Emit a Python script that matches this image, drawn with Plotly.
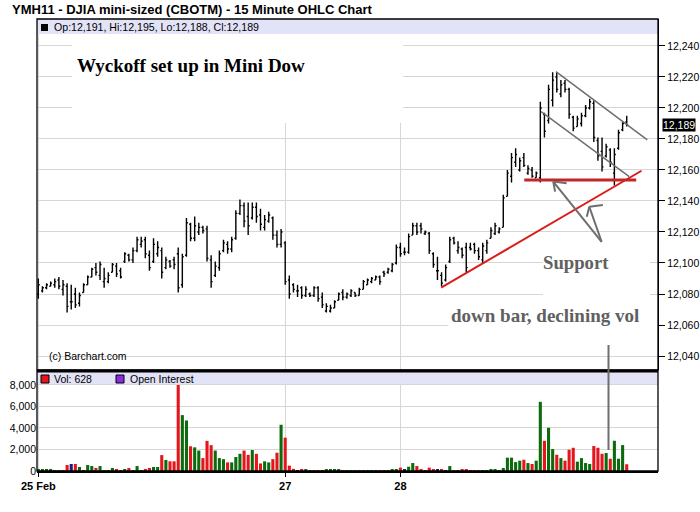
import plotly.graph_objects as go

# 15 minute bars, YMH11
highs = [12090, 12085, 12087, 12088, 12090, 12091, 12089, 12087, 12086, 12084,
         12081, 12087, 12092, 12097, 12100, 12101, 12097, 12094, 12100, 12100,
         12097, 12107, 12106, 12110, 12117, 12117, 12117, 12108, 12116, 12114,
         12110, 12104, 12102, 12104, 12110, 12106, 12129, 12126, 12130, 12126,
         12124, 12124, 12105, 12101, 12108, 12115, 12114, 12117, 12134, 12141,
         12139, 12139, 12139, 12139, 12135, 12131, 12133, 12130, 12121, 12122,
         12114, 12092, 12087, 12086, 12085, 12085, 12081, 12085, 12085, 12081,
         12074, 12073, 12076, 12081, 12083, 12081, 12083, 12081, 12084, 12089,
         12090, 12091, 12092, 12092, 12095, 12097, 12100, 12112, 12113, 12110,
         12119, 12126, 12126, 12126, 12121, 12120, 12107, 12104, 12094, 12099,
         12117, 12117, 12114, 12110, 12113, 12113, 12113, 12110, 12113, 12115,
         12123, 12126, 12123, 12144, 12160, 12171, 12174, 12168, 12171, 12163,
         12162, 12159, 12204, 12197, 12215, 12223, 12223, 12218, 12218, 12213,
         12195, 12195, 12197, 12202, 12206, 12205, 12181, 12181, 12177, 12174,
         12174, 12186, 12191, 12195]
lows = [12077, 12081, 12083, 12085, 12084, 12083, 12079, 12068, 12070, 12071,
        12072, 12081, 12086, 12091, 12092, 12089, 12084, 12087, 12094, 12091,
        12090, 12100, 12101, 12100, 12107, 12110, 12103, 12095, 12100, 12104,
        12090, 12096, 12097, 12096, 12081, 12084, 12104, 12114, 12114, 12118,
        12119, 12101, 12084, 12091, 12095, 12107, 12106, 12107, 12115, 12131,
        12123, 12118, 12128, 12126, 12121, 12121, 12126, 12115, 12110, 12110,
        12086, 12077, 12081, 12078, 12077, 12078, 12078, 12078, 12075, 12071,
        12068, 12068, 12071, 12076, 12076, 12077, 12078, 12078, 12079, 12083,
        12086, 12087, 12089, 12086, 12091, 12093, 12094, 12099, 12104, 12105,
        12106, 12118, 12118, 12119, 12118, 12106, 12097, 12089, 12085, 12088,
        12100, 12112, 12106, 12103, 12094, 12108, 12106, 12102, 12100, 12106,
        12116, 12118, 12119, 12123, 12143, 12152, 12162, 12159, 12162, 12157,
        12155, 12155, 12152, 12181, 12190, 12201, 12210, 12207, 12210, 12193,
        12185, 12188, 12188, 12194, 12199, 12178, 12166, 12159, 12168, 12162,
        12150, 12173, 12185, 12188]
opens = [12080, 12082, 12084, 12085, 12086, 12089, 12083, 12085, 12075, 12080,
         12074, 12081, 12086, 12091, 12097, 12092, 12088, 12088, 12094, 12098,
         12095, 12101, 12105, 12102, 12108, 12112, 12115, 12105, 12101, 12106,
         12108, 12097, 12101, 12102, 12106, 12086, 12105, 12125, 12116, 12120,
         12123, 12122, 12102, 12092, 12097, 12108, 12112, 12109, 12116, 12132,
         12137, 12130, 12129, 12136, 12131, 12123, 12127, 12129, 12118, 12112,
         12113, 12089, 12086, 12082, 12084, 12079, 12080, 12079, 12084, 12078,
         12069, 12069, 12071, 12076, 12081, 12078, 12079, 12081, 12079, 12083,
         12086, 12088, 12089, 12091, 12094, 12094, 12095, 12100, 12110, 12107,
         12107, 12118, 12124, 12124, 12119, 12119, 12106, 12095, 12092, 12089,
         12101, 12116, 12108, 12109, 12110, 12110, 12112, 12108, 12102, 12108,
         12116, 12119, 12120, 12123, 12143, 12156, 12165, 12160, 12168, 12158,
         12160, 12155, 12155, 12196, 12192, 12205, 12220, 12209, 12216, 12212,
         12194, 12188, 12190, 12195, 12200, 12203, 12179, 12172, 12169, 12173,
         12158, 12174, 12186, 12191]
closes = [12086, 12084, 12086, 12087, 12088, 12085, 12086, 12072, 12075, 12073,
          12079, 12086, 12091, 12096, 12094, 12099, 12090, 12092, 12099, 12093,
          12091, 12106, 12102, 12108, 12115, 12114, 12106, 12097, 12112, 12110,
          12094, 12102, 12098, 12099, 12084, 12104, 12126, 12116, 12124, 12123,
          12121, 12103, 12088, 12098, 12106, 12113, 12109, 12115, 12132, 12137,
          12127, 12124, 12136, 12130, 12125, 12128, 12131, 12118, 12112, 12120,
          12088, 12080, 12083, 12082, 12079, 12083, 12079, 12084, 12077, 12073,
          12072, 12071, 12075, 12080, 12078, 12080, 12082, 12079, 12083, 12088,
          12089, 12090, 12091, 12088, 12093, 12096, 12099, 12110, 12106, 12107,
          12117, 12124, 12120, 12122, 12120, 12108, 12099, 12095, 12087, 12097,
          12115, 12113, 12110, 12105, 12097, 12109, 12108, 12104, 12111, 12113,
          12121, 12124, 12122, 12142, 12158, 12168, 12170, 12166, 12163, 12161,
          12156, 12158, 12200, 12185, 12212, 12218, 12212, 12215, 12212, 12196,
          12187, 12193, 12195, 12200, 12204, 12181, 12169, 12162, 12175, 12165,
          12170, 12184, 12190, 12189]
volume = [150, 160, 100, 190, 90, 90, 90, 555, 650, 650,
          370, 90, 555, 460, 280, 460, 90, 90, 280, 190,
          90, 190, 280, 90, 460, 90, 190, 280, 370, 370,
          1480, 1020, 900, 900, 8000, 5200, 4700, 2300, 2200, 1900,
          1200, 2800, 2400, 1900, 1200, 1100, 800, 800, 1300, 1600,
          1900, 1500, 1950, 1600, 700, 900, 800, 1100, 1700, 4300,
          3100, 500, 200, 40, 100, 100, 30, 30, 30, 30,
          100, 100, 100, 100, 60, 40, 40, 40, 90, 90,
          90, 40, 40, 90, 90, 40, 185, 185, 310, 185,
          400, 740, 460, 185, 90, 310, 185, 185, 185, 90,
          460, 90, 90, 185, 185, 90, 90, 90, 90, 90,
          185, 185, 90, 280, 1240, 1240, 830, 960, 1050, 740,
          650, 960, 6430, 2810, 4020, 2040, 1510, 1200, 960, 1980,
          2160, 870, 1200, 740, 650, 2320, 2160, 1600, 1670, 1140,
          2810, 1140, 2410, 628]

bar_idx = list(range(len(closes)))
date_pos = [0, 60, 88]
date_labels = ["25 Feb", "27", "28"]
price_ticks = [12040, 12060, 12080, 12100, 12120, 12140, 12160, 12180, 12200, 12220, 12240]
vol_ticks = [0, 2000, 4000, 6000, 8000]

GRID = "#d6d6d6"
LAV = "#e3e3f7"
GREEN = "#0d6b0d"
RED = "#e4151b"
NAVY = "#1c1c80"
GRAY = "#6e6e6e"

# plot area in pixels: x 37..658, y 19..471
W, H = 700, 512
L, R, T, B = 37, 42, 19, 41
XR = [-0.32, 150.6]
YR = [12030.97, 12257.4]
VR = [0, 9300]


def px(x):
    return (x - L) / (W - L - R)


def py(y):
    return (H - B - y) / (H - T - B)


def xi(x):
    return (x - 38.3) / 4.115


def yp(y):
    return 12240 - (y - 46) / 1.55


vol_colors = []
for o, c in zip(opens, closes):
    if c > o:
        vol_colors.append(GREEN)
    elif c < o:
        vol_colors.append(RED)
    else:
        vol_colors.append(NAVY)

fig = go.Figure()
fig.add_trace(go.Ohlc(
    x=bar_idx, open=opens, high=highs, low=lows, close=closes,
    increasing_line_color="black", decreasing_line_color="black",
    line_width=1.4, tickwidth=0.35, hoverinfo="skip",
    xaxis="x", yaxis="y",
))
fig.add_trace(go.Bar(
    x=bar_idx, y=volume, marker_color=vol_colors, marker_line_width=0,
    width=0.75, hoverinfo="skip", xaxis="x2", yaxis="y2",
))

font_axis = dict(family="Liberation Sans", size=10.5, color="black")

fig.update_layout(
    width=W, height=H,
    margin=dict(l=L, r=R, t=T, b=B),
    paper_bgcolor="white", plot_bgcolor="white",
    showlegend=False,
    xaxis=dict(domain=[0, 1], anchor="y", range=XR, tickvals=date_pos,
               showticklabels=False, showgrid=True, gridcolor=GRID,
               zeroline=False, showline=False, ticks="",
               rangeslider=dict(visible=False)),
    xaxis2=dict(domain=[0, 1], anchor="y2", range=XR, matches="x",
                tickvals=date_pos, ticktext=["<b>%s</b>" % t for t in date_labels],
                ticks="outside", ticklen=4, tickcolor="black",
                showgrid=True, gridcolor=GRID, zeroline=False,
                showline=True, linecolor="black", linewidth=1.5,
                tickfont=dict(family="Liberation Sans", size=11, color="black")),
    yaxis=dict(domain=[101 / 452, 1], anchor="x", side="right",
               range=YR, tickvals=price_ticks, tickformat=",",
               ticks="outside", ticklen=6, tickcolor="black",
               showgrid=True, gridcolor=GRID, zeroline=False,
               showline=True, linecolor="black", linewidth=1.2,
               tickfont=font_axis, automargin=False),
    yaxis2=dict(domain=[0, 100 / 452], anchor="x2", side="left",
                range=VR, tickvals=vol_ticks, tickformat=",",
                ticks="", showgrid=True, gridcolor=GRID, zeroline=False,
                showline=False, tickfont=font_axis, automargin=False),
)

shapes = []

# white patches behind the hand-written notes (hide grid only)
for x0, x1, y0, y1 in [(72, 403, 123, 34), (543, 650, 300, 240), (448, 659, 343, 300)]:
    shapes.append(dict(type="rect", xref="x", yref="y", x0=xi(x0), x1=xi(x1),
                       y0=yp(y0), y1=yp(y1), fillcolor="white", line_width=0,
                       layer="between"))

# header bands
shapes.append(dict(type="rect", xref="x", yref="y", x0=XR[0], x1=XR[1],
                   y0=yp(34), y1=YR[1], fillcolor=LAV, line_width=0, layer="between"))
shapes.append(dict(type="rect", xref="x2", yref="y2", x0=XR[0], x1=XR[1],
                   y0=8100, y1=VR[1], fillcolor=LAV, line_width=0, layer="between"))

# panel borders
shapes.append(dict(type="rect", xref="paper", yref="paper", x0=0, x1=1, y0=py(370), y1=1,
                   line=dict(color="black", width=1.3)))
shapes.append(dict(type="rect", xref="paper", yref="paper", x0=0, x1=1, y0=0, y1=py(371),
                   line=dict(color="black", width=1.3)))
shapes.append(dict(type="line", xref="paper", yref="paper", x0=0, x1=1,
                   y0=py(371), y1=py(371), line=dict(color="black", width=3)))

# drawn trend lines
shapes.append(dict(type="line", xref="x", yref="y", x0=97.9, y0=12084.1, x1=146.6, y1=12159.5,
                   line=dict(color="#dc1b1b", width=2)))
shapes.append(dict(type="line", xref="x", yref="y", x0=118.1, y0=12153.5, x1=145.3, y1=12153.5,
                   line=dict(color="#c42626", width=3)))
shapes.append(dict(type="line", xref="x", yref="y", x0=125.8, y0=12223.4, x1=148.0, y1=12179.4,
                   line=dict(color=GRAY, width=1.5)))
shapes.append(dict(type="line", xref="x", yref="y", x0=122.2, y0=12197.6, x1=143.6, y1=12155.7,
                   line=dict(color=GRAY, width=1.5)))
# arrows pointing at support
for seg in [(136.9, 12113.7, 125.15, 12152.5), (125.15, 12152.5, 128.4, 12151.4),
            (125.15, 12152.5, 125.6, 12146.0),
            (136.9, 12113.7, 133.9, 12136.3), (133.9, 12136.3, 137.2, 12137.4),
            (133.9, 12136.3, 133.3, 12129.9)]:
    shapes.append(dict(type="line", xref="x", yref="y", x0=seg[0], y0=seg[1], x1=seg[2], y1=seg[3],
                       line=dict(color=GRAY, width=2)))
# pointer to the down bar volume
shapes.append(dict(type="line", xref="paper", yref="paper", x0=px(608.5), x1=px(608.5),
                   y0=py(345), y1=py(450), line=dict(color=GRAY, width=2)))

# legend squares
shapes.append(dict(type="rect", xref="paper", yref="paper", x0=px(41), x1=px(48), y0=py(31), y1=py(24),
                   fillcolor="black", line_width=0))
shapes.append(dict(type="rect", xref="paper", yref="paper", x0=px(41), x1=px(49), y0=py(383), y1=py(375),
                   fillcolor=RED, line=dict(color="black", width=1)))
shapes.append(dict(type="rect", xref="paper", yref="paper", x0=px(116), x1=px(124), y0=py(383), y1=py(375),
                   fillcolor="#8a2be2", line=dict(color="black", width=1)))

fig.update_layout(shapes=shapes)

sans = "Liberation Sans"
serif = "Liberation Serif"
ann = [
    dict(text="<b>YMH11 - DJIA mini-sized (CBOTM) - 15 Minute OHLC Chart</b>",
         x=px(10), y=py(9), xanchor="left", font=dict(family=sans, size=13, color="black")),
    dict(text="Op:12,191, Hi:12,195, Lo:12,188, Cl:12,189",
         x=px(52), y=py(27), xanchor="left", font=dict(family=sans, size=10.6, color="black")),
    dict(text="(c) Barchart.com", x=px(47), y=py(356), xanchor="left",
         font=dict(family=sans, size=10.5, color="black")),
    dict(text="Vol: 628", x=px(52), y=py(379), xanchor="left",
         font=dict(family=sans, size=10.5, color="black")),
    dict(text="Open Interest", x=px(128), y=py(379), xanchor="left",
         font=dict(family=sans, size=10.5, color="black")),
    dict(text="<b>Wyckoff set up in Mini Dow</b>", x=px(191), y=py(65), xanchor="center",
         font=dict(family=serif, size=19, color="black")),
    dict(text="<b>Support</b>", x=px(576), y=py(262), xanchor="center",
         font=dict(family=serif, size=18.7, color="#606060")),
    dict(text="<b>down bar, declining vol</b>", x=px(545), y=py(315), xanchor="center",
         font=dict(family=serif, size=19, color="#606060")),
    dict(text="12,189", x=px(662), y=py(125), xanchor="left", bgcolor="black", borderpad=0,
         font=dict(family=sans, size=10.5, color="white")),
]
for a in ann:
    a.update(xref="paper", yref="paper", yanchor="middle", showarrow=False)
fig.update_layout(annotations=ann)

# drop the page margin so the 700x512 figure fits the window exactly
fig.write_html("out.html", config={"displayModeBar": False},
               post_script="document.body.style.margin='0';document.body.style.overflow='hidden';")
